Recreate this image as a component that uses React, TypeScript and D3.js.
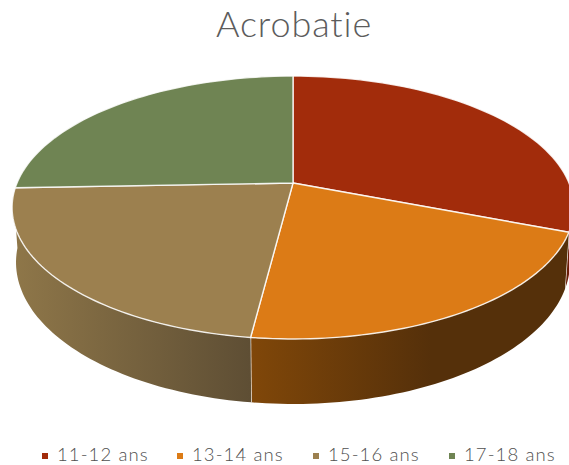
import React, { useEffect, useRef } from "react";
import * as d3 from "d3";

const categories = ["11-12 ans", "13-14 ans", "15-16 ans", "17-18 ans"];
const shares = [30.9, 21.1, 22.4, 25.6];
const topColors = ["#A22C0B", "#DC7B16", "#9C804F", "#6F8453"];
const wallStart = ["#6a1d07", "#804709", "#8F7749", "#4a5a36"];
const wallEnd = ["#5e1a06", "#55300A", "#5E4E34", "#4a5a36"];

const width = 569;
const height = 465;

// perspective disc, fitted to the picture
const cx = 293;
const cy = 183;
const a = 276;
const b = 126.9;
const k = 0.1863;
const depth = 52.9;
const baseShrink = 0.986;

const project = (angle: number, drop = 0): [number, number] => {
  const u = Math.sin(angle);
  const v = -Math.cos(angle);
  const w = 1 - k * v;
  const scale = drop ? baseShrink : 1;
  return [cx + (a * scale * u) / w, cy + (b * v + drop) / w];
};

const sample = (start: number, end: number, drop = 0) =>
  d3.range(0, 61).map((i) => project(start + ((end - start) * i) / 60, drop));

const App: React.FC = () => {
  const svgRef = useRef<SVGSVGElement>(null);

  useEffect(() => {
    if (!svgRef.current) return;
    const svg = d3.select(svgRef.current);
    svg.selectAll("*").remove();

    const arcs = d3.pie<number>().sort(null)(shares);
    const line = d3.line();
    const defs = svg.append("defs");

    const wallFrom = (Math.PI * 95) / 180;
    const wallTo = (Math.PI * 265) / 180;

    // side walls first, the top sits over them
    arcs.forEach((d, i) => {
      const s = Math.max(d.startAngle, wallFrom);
      const e = Math.min(d.endAngle, wallTo);
      if (s >= e) return;
      const xs = sample(s, e).map((p) => p[0]);
      const grad = defs
        .append("linearGradient")
        .attr("id", `wall${i}`)
        .attr("gradientUnits", "userSpaceOnUse")
        .attr("x1", d3.min(xs)!)
        .attr("x2", i === 1 ? d3.min(xs)! + 180 : d3.max(xs)!)
        .attr("y1", 0)
        .attr("y2", 0);
      grad.append("stop").attr("offset", 0).attr("stop-color", wallStart[i]);
      grad.append("stop").attr("offset", 1).attr("stop-color", wallEnd[i]);

      const pts = [...sample(s, e), ...sample(s, e, depth).reverse()];
      svg
        .append("path")
        .attr("d", line(pts) + "Z")
        .attr("fill", `url(#wall${i})`);
      if (e < wallTo) {
        svg
          .append("path")
          .attr("d", line([project(e), project(e, depth)]))
          .attr("stroke", "#fff")
          .attr("stroke-width", 1.2)
          .attr("fill", "none");
      }
    });

    arcs.forEach((d, i) => {
      const pts: [number, number][] = [[cx, cy], ...sample(d.startAngle, d.endAngle)];
      svg
        .append("path")
        .attr("d", line(pts) + "Z")
        .attr("fill", topColors[i])
        .attr("stroke", "#fff")
        .attr("stroke-opacity", 0.85)
        .attr("stroke-width", 1.4)
        .attr("stroke-linejoin", "round");
    });

    svg
      .append("text")
      .attr("x", 294)
      .attr("y", 37)
      .attr("text-anchor", "middle")
      .attr("font-family", "Lato, sans-serif")
      .attr("font-weight", 300)
      .attr("font-size", 36)
      .attr("letter-spacing", 0.9)
      .attr("fill", "#5c5c5c")
      .text("Acrobatie");

    const legendX = d3.scaleOrdinal<string, number>().domain(categories).range([57, 192, 328, 464]);
    const legend = svg.selectAll("g.item").data(categories).join("g").attr("class", "item");
    legend
      .append("rect")
      .attr("x", (d) => legendX(d) - 15)
      .attr("y", 453)
      .attr("width", 6)
      .attr("height", 6)
      .attr("fill", (_, i) => topColors[i]);
    legend
      .append("text")
      .attr("x", (d) => legendX(d))
      .attr("y", 461)
      .attr("font-family", "Lato, sans-serif")
      .attr("font-weight", 300)
      .attr("font-size", 18.5)
      .attr("letter-spacing", 1.1)
      .attr("fill", "#505050")
      .text((d) => d);
  }, []);

  return (
    <svg
      ref={svgRef}
      width={width}
      height={height}
      style={{ position: "absolute", left: 0, top: 0, display: "block" }}
    />
  );
};

export default App;
